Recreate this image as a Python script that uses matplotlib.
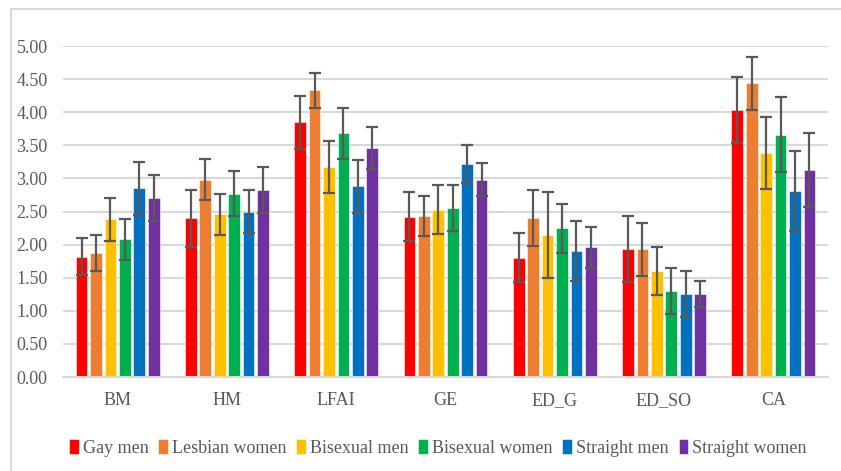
import matplotlib.pyplot as plt
import numpy as np
from matplotlib.patches import Rectangle

plt.rcParams["font.family"] = ["Liberation Serif", "DejaVu Serif"]

categories = ["BM", "HM", "LFAI", "GE", "ED_G", "ED_SO", "CA"]
groups = ["Gay men", "Lesbian women", "Bisexual men", "Bisexual women",
          "Straight men", "Straight women"]
colors = ["#FF0000", "#ED7D31", "#FFC000", "#00B050", "#0070C0", "#7030A0"]

means = {
    "Gay men":        [1.82, 2.40, 3.85, 2.42, 1.80, 1.93, 4.03],
    "Lesbian women":  [1.87, 2.98, 4.33, 2.43, 2.40, 1.93, 4.44],
    "Bisexual men":   [2.38, 2.46, 3.17, 2.53, 2.14, 1.60, 3.38],
    "Bisexual women": [2.08, 2.77, 3.68, 2.55, 2.25, 1.30, 3.66],
    "Straight men":   [2.85, 2.50, 2.88, 3.22, 1.90, 1.25, 2.81],
    "Straight women": [2.70, 2.82, 3.46, 2.98, 1.96, 1.25, 3.13],
}
errors = {
    "Gay men":        [0.28, 0.43, 0.40, 0.37, 0.37, 0.50, 0.50],
    "Lesbian women":  [0.27, 0.31, 0.26, 0.30, 0.42, 0.40, 0.40],
    "Bisexual men":   [0.33, 0.31, 0.39, 0.37, 0.65, 0.36, 0.54],
    "Bisexual women": [0.31, 0.34, 0.39, 0.35, 0.37, 0.35, 0.57],
    "Straight men":   [0.40, 0.32, 0.40, 0.29, 0.45, 0.35, 0.60],
    "Straight women": [0.35, 0.35, 0.32, 0.25, 0.31, 0.20, 0.56],
}

text_color = "#595959"
grid_color = "#D9D9D9"

fig = plt.figure(figsize=(8.41, 4.71), dpi=100)
fig.patches.append(Rectangle((11 / 841, -0.01), 1.0, 1 - 9 / 471 + 0.01,
                             transform=fig.transFigure, fill=False,
                             edgecolor=grid_color, linewidth=1.5))
ax = fig.add_axes([63 / 841, 1 - 377 / 471, 765 / 841, 331 / 471])

x = np.arange(len(categories))
pitch = 0.132
width = 0.108
for i, g in enumerate(groups):
    pos = x + (i - 2.5) * pitch
    ax.bar(pos, means[g], width, color=colors[i], label=g, zorder=2,
           edgecolor="white", linewidth=0.4)
    ax.errorbar(pos, means[g], yerr=errors[g], fmt="none", ecolor="#595959",
                elinewidth=1.6, capsize=4, capthick=1.6, zorder=3)

ax.set_xlim(-0.5, 6.5)
ax.set_ylim(0, 5)
ax.set_yticks(np.arange(0, 5.01, 0.5))
ax.set_yticklabels([f"{v:.2f}" for v in np.arange(0, 5.01, 0.5)])
ax.set_xticks(x)
ax.set_xticklabels(categories)
ax.grid(True, axis="y", color=grid_color, linewidth=1.5, zorder=0)
ax.set_axisbelow(True)
for s in ["top", "right", "left"]:
    ax.spines[s].set_visible(False)
ax.spines["bottom"].set_color(grid_color)
ax.spines["bottom"].set_linewidth(1.5)
ax.tick_params(axis="both", length=0, labelsize=13, labelcolor=text_color)
ax.tick_params(axis="x", pad=11)
ax.tick_params(axis="y", pad=11)

ax.legend(loc="center", bbox_to_anchor=(0.49, -0.215), ncol=6, frameon=False,
          fontsize=13, labelcolor=text_color, handlelength=0.55,
          handleheight=0.9, handletextpad=0.2, columnspacing=0.55)

fig.savefig("out.png", dpi=100)
plt.close(fig)
